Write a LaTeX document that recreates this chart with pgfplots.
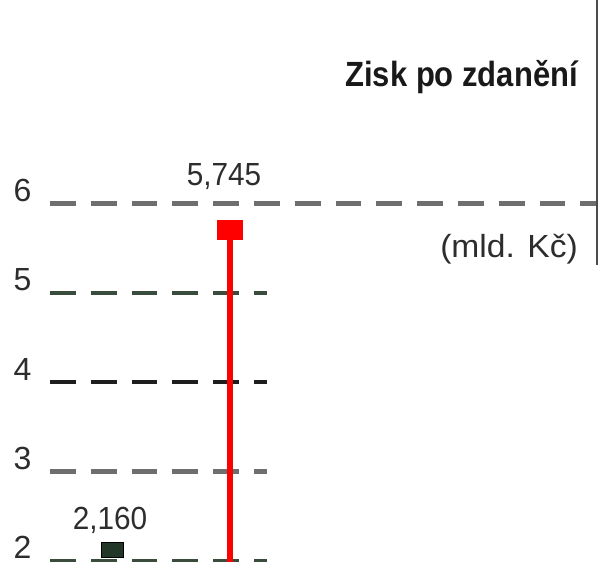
\documentclass[border=0pt]{standalone}
\usepackage{fontspec}
\setmainfont{Liberation Sans}
\newfontfamily\numfont{Liberation Sans}[FakeStretch=0.93]
\newfontfamily\titlefont{Liberation Sans}[FakeStretch=0.885]
\newfontfamily\unitfont{Liberation Sans}[FakeStretch=1.05]
\usepackage{pgfplots}
\pgfplotsset{compat=1.18}
\definecolor{darkgreen}{RGB}{35,55,40}
\definecolor{gridA}{RGB}{110,110,110}
\definecolor{gridB}{RGB}{58,76,60}
\definecolor{gridC}{RGB}{30,30,30}
\definecolor{numgray}{RGB}{45,45,45}
\definecolor{redline}{RGB}{255,0,0}
\begin{document}
\begin{tikzpicture}
\begin{axis}[name=ax, at={(0,0)}, anchor=south west, scale only axis,
  width=598pt, height=562pt,
  xmin=0, xmax=598, ymin=1.9854, ymax=8.2788,
  axis line style={draw=none}, xtick=\empty, ytick={2,3,4,5,6},
  major tick length=0pt,
  /pgf/number format/assume math mode=true,
  yticklabel style={anchor=base west, inner sep=0pt, xshift=13.5pt, yshift=2pt,
    font=\fontsize{32}{32}\selectfont, text=numgray},
  clip=true,
]
% dashed reference lines
\addplot[gridA, line width=4.3pt, dash pattern=on 25.8pt off 15pt] coordinates {(50,6) (620,6)};
\addplot[gridB, line width=4.3pt, dash pattern=on 25.8pt off 15pt] coordinates {(50,5) (267,5)};
\addplot[gridC, line width=4.3pt, dash pattern=on 25.8pt off 15pt] coordinates {(50,4) (267,4)};
\addplot[gridA, line width=4.3pt, dash pattern=on 25.8pt off 15pt] coordinates {(50,3) (267,3)};
\addplot[gridB, line width=4.3pt, dash pattern=on 25.8pt off 15pt] coordinates {(50,2) (267,2)};
% right frame line
\draw[black!70, line width=2pt] (axis cs:596.8,8.4) -- (axis cs:596.8,5.311);
% data
\addplot[redline, line width=6pt, mark=square*, mark indices={1}, mark size=7pt,
  mark options={draw=none, fill=redline, xscale=1.4, yshift=-3.5pt}]
  coordinates {(230,5.745) (230,1.9)};
\addplot[only marks, mark=square*, mark size=7.5pt,
  mark options={draw=none, fill=darkgreen, xscale=1.5, yshift=-3.5pt}]
  coordinates {(112,2.16)};
% value labels
\node[anchor=base, inner sep=0pt, text=numgray, font={\numfont\fontsize{32}{32}\selectfont}] at (axis cs:224,6.196) {5,745};
\node[anchor=base, inner sep=0pt, text=numgray, font={\numfont\fontsize{32}{32}\selectfont}] at (axis cs:110,2.3437) {2,160};
% title and unit
\node[anchor=base east, inner sep=0pt, text=black!90, font={\titlefont\bfseries\fontsize{35}{35}\selectfont}] at (axis cs:578,7.3046) {Zisk po zdanění};
\node[anchor=base east, inner sep=0pt, text=numgray, font={\unitfont\fontsize{32}{32}\selectfont}] at (axis cs:578,5.3897) {(mld. Kč)};
\end{axis}
\pgfresetboundingbox
\path[use as bounding box] (ax.south west) rectangle (ax.north east);
\end{tikzpicture}
\end{document}
